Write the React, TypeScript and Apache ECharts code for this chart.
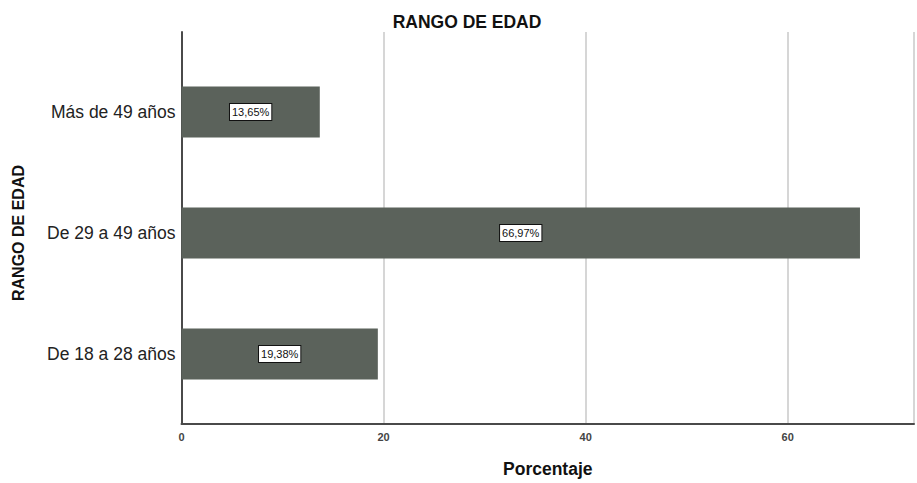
import React, { useEffect, useRef } from "react";
import * as echarts from "echarts";

const categories = ["De 18 a 28 años", "De 29 a 49 años", "Más de 49 años"];
const percentages = [19.38, 66.97, 13.65];
const xTicks = [0, 20, 40, 60];
const xMax = 72.5;

export default function App() {
  const ref = useRef<HTMLDivElement>(null);
  useEffect(() => {
    if (!ref.current) return;
    const chart = echarts.init(ref.current, undefined, { renderer: "svg" });
    const font = "'Liberation Sans', Arial, sans-serif";
    chart.setOption({
      animation: false,
      backgroundColor: "#ffffff",
      textStyle: { fontFamily: font },
      title: {
        text: "RANGO DE EDAD",
        left: 462,
        top: 8,
        textAlign: "center",
        textStyle: { fontSize: 17.5, fontWeight: "bold", color: "#111", fontFamily: font },
      },
      grid: [
        { left: 181.5, right: 1, top: 32, bottom: 49.5, containLabel: false },
        { left: 181.5, right: 1, top: 51.5, bottom: 68.5, containLabel: false },
      ],
      xAxis: [
        {
          gridIndex: 0,
          type: "value",
          min: 0,
          max: xMax,
          interval: 20,
          name: "Porcentaje",
          nameLocation: "middle",
          nameGap: 36,
          nameTextStyle: { fontSize: 17.5, fontWeight: "bold", color: "#111", fontFamily: font },
          axisLine: { show: true, lineStyle: { color: "#4a4a4a", width: 2 } },
          axisTick: { show: false },
          axisLabel: {
            fontSize: 11,
            fontWeight: "bold",
            color: "#444",
            margin: 7,
            formatter: (v: number) => (xTicks.includes(v) ? String(v) : ""),
          },
          splitLine: { show: true, lineStyle: { color: "#c8c8c8", width: 1.5 } },
        },
        {
          gridIndex: 1,
          type: "value",
          min: 0,
          max: xMax,
          show: false,
        },
      ],
      yAxis: [
        {
          gridIndex: 0,
          type: "value",
          min: 0,
          max: 1,
          axisLine: { show: true, lineStyle: { color: "#4a4a4a", width: 2 } },
          axisTick: { show: false },
          axisLabel: { show: false },
          splitLine: { show: false },
        },
        {
          gridIndex: 1,
          type: "category",
          data: categories,
          name: "RANGO DE EDAD",
          nameLocation: "middle",
          nameRotate: 90,
          nameGap: 155,
          nameTextStyle: { fontSize: 16, fontWeight: "bold", color: "#111", fontFamily: font },
          axisLine: { show: false },
          axisTick: { show: false },
          axisLabel: { fontSize: 17.5, color: "#222", margin: 6, fontFamily: font },
          splitLine: { show: false },
        },
      ],
      series: [
        {
          type: "bar",
          xAxisIndex: 1,
          yAxisIndex: 1,
          data: percentages,
          barWidth: 51,
          itemStyle: { color: "#5b625b" },
          label: {
            show: true,
            position: "inside",
            formatter: (p: any) => p.value.toFixed(2).replace(".", ",") + "%",
            fontSize: 11,
            color: "#111",
            backgroundColor: "#ffffff",
            borderColor: "#111",
            borderWidth: 1,
            padding: [3, 2, 2, 2],
            fontFamily: font,
          },
        },
      ],
    });
    return () => chart.dispose();
  }, []);
  return <div ref={ref} style={{ width: 917, height: 483, position: "absolute", left: 0, top: 0 }} />;
}
